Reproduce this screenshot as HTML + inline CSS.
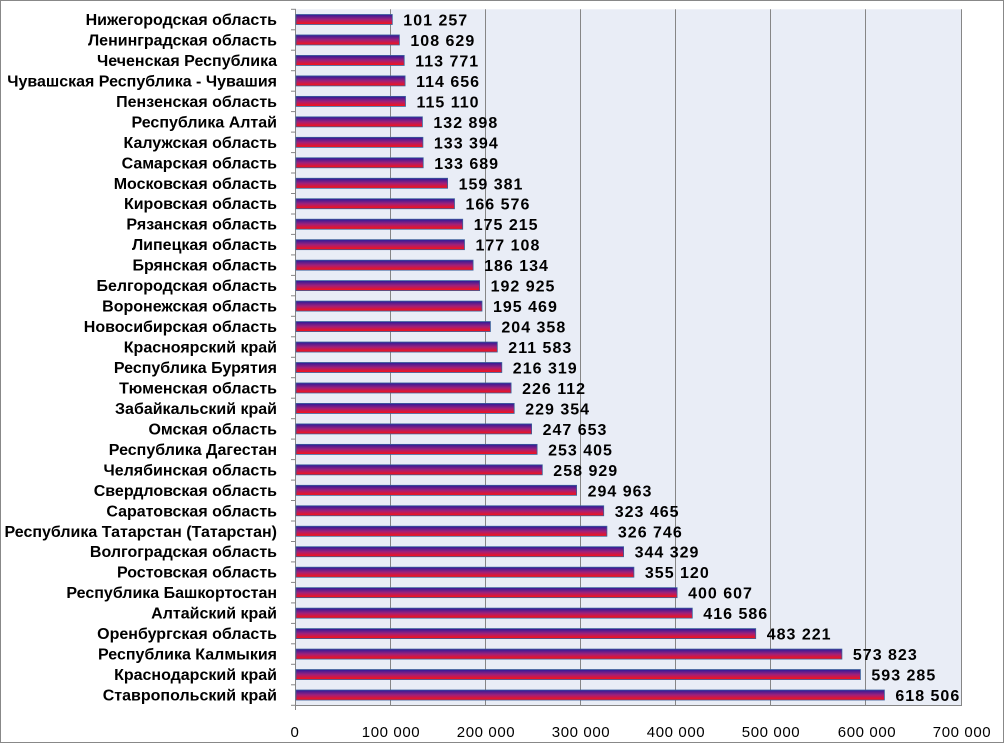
<!DOCTYPE html><html><head><meta charset="utf-8"><style>body{margin:0;background:#fff}.l{font-size:16px}.v{font-size:16px;letter-spacing:1px}.t{letter-spacing:0.6px}</style></head><body>
<svg width="1004" height="743" xmlns="http://www.w3.org/2000/svg" font-family="Liberation Sans, sans-serif">
<defs><linearGradient id="g" x1="0" y1="0" x2="0" y2="1"><stop offset="0" stop-color="#2a1a9a"/><stop offset="0.5" stop-color="#a0207a"/><stop offset="1" stop-color="#ff1010"/></linearGradient></defs>
<rect x="0.5" y="0.5" width="1003" height="742" fill="#fff" stroke="#888"/>
<rect x="296" y="9.3" width="666" height="696" fill="#e9edf6"/>
<g stroke="#868686" stroke-width="1">
<line x1="390.5" y1="9.3" x2="390.5" y2="705"/><line x1="485.5" y1="9.3" x2="485.5" y2="705"/><line x1="580.5" y1="9.3" x2="580.5" y2="705"/><line x1="675.5" y1="9.3" x2="675.5" y2="705"/><line x1="770.5" y1="9.3" x2="770.5" y2="705"/><line x1="865.5" y1="9.3" x2="865.5" y2="705"/><line x1="961.5" y1="9.3" x2="961.5" y2="705"/>
<line x1="295.5" y1="9.3" x2="295.5" y2="710"/><line x1="295.5" y1="705.5" x2="962" y2="705.5"/>
<line x1="291" x2="296" y1="9.3" y2="9.3"/><line x1="291" x2="296" y1="29.8" y2="29.8"/><line x1="291" x2="296" y1="50.2" y2="50.2"/><line x1="291" x2="296" y1="70.7" y2="70.7"/><line x1="291" x2="296" y1="91.2" y2="91.2"/><line x1="291" x2="296" y1="111.6" y2="111.6"/><line x1="291" x2="296" y1="132.1" y2="132.1"/><line x1="291" x2="296" y1="152.6" y2="152.6"/><line x1="291" x2="296" y1="173" y2="173"/><line x1="291" x2="296" y1="193.5" y2="193.5"/><line x1="291" x2="296" y1="214" y2="214"/><line x1="291" x2="296" y1="234.4" y2="234.4"/><line x1="291" x2="296" y1="254.9" y2="254.9"/><line x1="291" x2="296" y1="275.4" y2="275.4"/><line x1="291" x2="296" y1="295.8" y2="295.8"/><line x1="291" x2="296" y1="316.3" y2="316.3"/><line x1="291" x2="296" y1="336.8" y2="336.8"/><line x1="291" x2="296" y1="357.3" y2="357.3"/><line x1="291" x2="296" y1="377.7" y2="377.7"/><line x1="291" x2="296" y1="398.2" y2="398.2"/><line x1="291" x2="296" y1="418.7" y2="418.7"/><line x1="291" x2="296" y1="439.1" y2="439.1"/><line x1="291" x2="296" y1="459.6" y2="459.6"/><line x1="291" x2="296" y1="480.1" y2="480.1"/><line x1="291" x2="296" y1="500.5" y2="500.5"/><line x1="291" x2="296" y1="521" y2="521"/><line x1="291" x2="296" y1="541.5" y2="541.5"/><line x1="291" x2="296" y1="561.9" y2="561.9"/><line x1="291" x2="296" y1="582.4" y2="582.4"/><line x1="291" x2="296" y1="602.9" y2="602.9"/><line x1="291" x2="296" y1="623.4" y2="623.4"/><line x1="291" x2="296" y1="643.8" y2="643.8"/><line x1="291" x2="296" y1="664.3" y2="664.3"/><line x1="291" x2="296" y1="684.8" y2="684.8"/><line x1="291" x2="296" y1="705.3" y2="705.3"/>
</g>
<g font-weight="bold" fill="#000">
<g transform="translate(0,19.5)"><rect x="296" y="-5" width="96.3" height="10" fill="url(#g)" stroke="#3b5f9a" stroke-width="0.8"/><text x="277" y="5.5" class="l" text-anchor="end">Нижегородская область</text><text x="403.3" y="6" class="v">101 257</text></g>
<g transform="translate(0,39.97)"><rect x="296" y="-5" width="103.4" height="10" fill="url(#g)" stroke="#3b5f9a" stroke-width="0.8"/><text x="277" y="5.5" class="l" text-anchor="end">Ленинградская область</text><text x="410.4" y="6" class="v">108 629</text></g>
<g transform="translate(0,60.44)"><rect x="296" y="-5" width="108.2" height="10" fill="url(#g)" stroke="#3b5f9a" stroke-width="0.8"/><text x="277" y="5.5" class="l" text-anchor="end">Чеченская Республика</text><text x="415.2" y="6" class="v">113 771</text></g>
<g transform="translate(0,80.91)"><rect x="296" y="-5" width="109.1" height="10" fill="url(#g)" stroke="#3b5f9a" stroke-width="0.8"/><text x="277" y="5.5" class="l" text-anchor="end">Чувашская Республика - Чувашия</text><text x="416.1" y="6" class="v">114 656</text></g>
<g transform="translate(0,101.38)"><rect x="296" y="-5" width="109.5" height="10" fill="url(#g)" stroke="#3b5f9a" stroke-width="0.8"/><text x="277" y="5.5" class="l" text-anchor="end">Пензенская область</text><text x="416.5" y="6" class="v">115 110</text></g>
<g transform="translate(0,121.85)"><rect x="296" y="-5" width="126.4" height="10" fill="url(#g)" stroke="#3b5f9a" stroke-width="0.8"/><text x="277" y="5.5" class="l" text-anchor="end">Республика Алтай</text><text x="433.4" y="6" class="v">132 898</text></g>
<g transform="translate(0,142.32)"><rect x="296" y="-5" width="126.9" height="10" fill="url(#g)" stroke="#3b5f9a" stroke-width="0.8"/><text x="277" y="5.5" class="l" text-anchor="end">Калужская область</text><text x="433.9" y="6" class="v">133 394</text></g>
<g transform="translate(0,162.79)"><rect x="296" y="-5" width="127.2" height="10" fill="url(#g)" stroke="#3b5f9a" stroke-width="0.8"/><text x="277" y="5.5" class="l" text-anchor="end">Самарская область</text><text x="434.2" y="6" class="v">133 689</text></g>
<g transform="translate(0,183.26)"><rect x="296" y="-5" width="151.6" height="10" fill="url(#g)" stroke="#3b5f9a" stroke-width="0.8"/><text x="277" y="5.5" class="l" text-anchor="end">Московская область</text><text x="458.6" y="6" class="v">159 381</text></g>
<g transform="translate(0,203.73)"><rect x="296" y="-5" width="158.5" height="10" fill="url(#g)" stroke="#3b5f9a" stroke-width="0.8"/><text x="277" y="5.5" class="l" text-anchor="end">Кировская область</text><text x="465.5" y="6" class="v">166 576</text></g>
<g transform="translate(0,224.2)"><rect x="296" y="-5" width="166.7" height="10" fill="url(#g)" stroke="#3b5f9a" stroke-width="0.8"/><text x="277" y="5.5" class="l" text-anchor="end">Рязанская  область</text><text x="473.7" y="6" class="v">175 215</text></g>
<g transform="translate(0,244.67)"><rect x="296" y="-5" width="168.5" height="10" fill="url(#g)" stroke="#3b5f9a" stroke-width="0.8"/><text x="277" y="5.5" class="l" text-anchor="end">Липецкая область</text><text x="475.5" y="6" class="v">177 108</text></g>
<g transform="translate(0,265.14)"><rect x="296" y="-5" width="177.1" height="10" fill="url(#g)" stroke="#3b5f9a" stroke-width="0.8"/><text x="277" y="5.5" class="l" text-anchor="end">Брянская область</text><text x="484.1" y="6" class="v">186 134</text></g>
<g transform="translate(0,285.61)"><rect x="296" y="-5" width="183.6" height="10" fill="url(#g)" stroke="#3b5f9a" stroke-width="0.8"/><text x="277" y="5.5" class="l" text-anchor="end">Белгородская область</text><text x="490.6" y="6" class="v">192 925</text></g>
<g transform="translate(0,306.08)"><rect x="296" y="-5" width="186" height="10" fill="url(#g)" stroke="#3b5f9a" stroke-width="0.8"/><text x="277" y="5.5" class="l" text-anchor="end">Воронежская область</text><text x="493" y="6" class="v">195 469</text></g>
<g transform="translate(0,326.55)"><rect x="296" y="-5" width="194.4" height="10" fill="url(#g)" stroke="#3b5f9a" stroke-width="0.8"/><text x="277" y="5.5" class="l" text-anchor="end">Новосибирская область</text><text x="501.4" y="6" class="v">204 358</text></g>
<g transform="translate(0,347.02)"><rect x="296" y="-5" width="201.3" height="10" fill="url(#g)" stroke="#3b5f9a" stroke-width="0.8"/><text x="277" y="5.5" class="l" text-anchor="end">Красноярский край</text><text x="508.3" y="6" class="v">211 583</text></g>
<g transform="translate(0,367.49)"><rect x="296" y="-5" width="205.8" height="10" fill="url(#g)" stroke="#3b5f9a" stroke-width="0.8"/><text x="277" y="5.5" class="l" text-anchor="end">Республика Бурятия</text><text x="512.8" y="6" class="v">216 319</text></g>
<g transform="translate(0,387.96)"><rect x="296" y="-5" width="215.1" height="10" fill="url(#g)" stroke="#3b5f9a" stroke-width="0.8"/><text x="277" y="5.5" class="l" text-anchor="end">Тюменская область</text><text x="522.1" y="6" class="v">226 112</text></g>
<g transform="translate(0,408.43)"><rect x="296" y="-5" width="218.2" height="10" fill="url(#g)" stroke="#3b5f9a" stroke-width="0.8"/><text x="277" y="5.5" class="l" text-anchor="end">Забайкальский край</text><text x="525.2" y="6" class="v">229 354</text></g>
<g transform="translate(0,428.9)"><rect x="296" y="-5" width="235.6" height="10" fill="url(#g)" stroke="#3b5f9a" stroke-width="0.8"/><text x="277" y="5.5" class="l" text-anchor="end">Омская область</text><text x="542.6" y="6" class="v">247 653</text></g>
<g transform="translate(0,449.37)"><rect x="296" y="-5" width="241.1" height="10" fill="url(#g)" stroke="#3b5f9a" stroke-width="0.8"/><text x="277" y="5.5" class="l" text-anchor="end">Республика Дагестан</text><text x="548.1" y="6" class="v">253 405</text></g>
<g transform="translate(0,469.84)"><rect x="296" y="-5" width="246.3" height="10" fill="url(#g)" stroke="#3b5f9a" stroke-width="0.8"/><text x="277" y="5.5" class="l" text-anchor="end">Челябинская область</text><text x="553.3" y="6" class="v">258 929</text></g>
<g transform="translate(0,490.31)"><rect x="296" y="-5" width="280.6" height="10" fill="url(#g)" stroke="#3b5f9a" stroke-width="0.8"/><text x="277" y="5.5" class="l" text-anchor="end">Свердловская область</text><text x="587.6" y="6" class="v">294 963</text></g>
<g transform="translate(0,510.78)"><rect x="296" y="-5" width="307.7" height="10" fill="url(#g)" stroke="#3b5f9a" stroke-width="0.8"/><text x="277" y="5.5" class="l" text-anchor="end">Саратовская  область</text><text x="614.7" y="6" class="v">323 465</text></g>
<g transform="translate(0,531.25)"><rect x="296" y="-5" width="310.9" height="10" fill="url(#g)" stroke="#3b5f9a" stroke-width="0.8"/><text x="277" y="5.5" class="l" text-anchor="end">Республика Татарстан  (Татарстан)</text><text x="617.9" y="6" class="v">326 746</text></g>
<g transform="translate(0,551.72)"><rect x="296" y="-5" width="327.6" height="10" fill="url(#g)" stroke="#3b5f9a" stroke-width="0.8"/><text x="277" y="5.5" class="l" text-anchor="end">Волгоградская область</text><text x="634.6" y="6" class="v">344 329</text></g>
<g transform="translate(0,572.19)"><rect x="296" y="-5" width="337.9" height="10" fill="url(#g)" stroke="#3b5f9a" stroke-width="0.8"/><text x="277" y="5.5" class="l" text-anchor="end">Ростовская  область</text><text x="644.9" y="6" class="v">355 120</text></g>
<g transform="translate(0,592.66)"><rect x="296" y="-5" width="381.1" height="10" fill="url(#g)" stroke="#3b5f9a" stroke-width="0.8"/><text x="277" y="5.5" class="l" text-anchor="end">Республика Башкортостан</text><text x="688.1" y="6" class="v">400 607</text></g>
<g transform="translate(0,613.13)"><rect x="296" y="-5" width="396.3" height="10" fill="url(#g)" stroke="#3b5f9a" stroke-width="0.8"/><text x="277" y="5.5" class="l" text-anchor="end">Алтайский край</text><text x="703.3" y="6" class="v">416 586</text></g>
<g transform="translate(0,633.6)"><rect x="296" y="-5" width="459.7" height="10" fill="url(#g)" stroke="#3b5f9a" stroke-width="0.8"/><text x="277" y="5.5" class="l" text-anchor="end">Оренбургская область</text><text x="766.7" y="6" class="v">483 221</text></g>
<g transform="translate(0,654.07)"><rect x="296" y="-5" width="545.9" height="10" fill="url(#g)" stroke="#3b5f9a" stroke-width="0.8"/><text x="277" y="5.5" class="l" text-anchor="end">Республика Калмыкия</text><text x="852.9" y="6" class="v">573 823</text></g>
<g transform="translate(0,674.54)"><rect x="296" y="-5" width="564.4" height="10" fill="url(#g)" stroke="#3b5f9a" stroke-width="0.8"/><text x="277" y="5.5" class="l" text-anchor="end">Краснодарский край</text><text x="871.4" y="6" class="v">593 285</text></g>
<g transform="translate(0,695.01)"><rect x="296" y="-5" width="588.4" height="10" fill="url(#g)" stroke="#3b5f9a" stroke-width="0.8"/><text x="277" y="5.5" class="l" text-anchor="end">Ставропольский край</text><text x="895.4" y="6" class="v">618 506</text></g>
</g>
<g font-size="15" text-anchor="middle" fill="#000" class="t">
<text x="295" y="737">0</text><text x="391" y="737">100 000</text><text x="486" y="737">200 000</text><text x="581" y="737">300 000</text><text x="676" y="737">400 000</text><text x="771" y="737">500 000</text><text x="867" y="737">600 000</text><text x="962" y="737">700 000</text>
</g>
</svg></body></html>
